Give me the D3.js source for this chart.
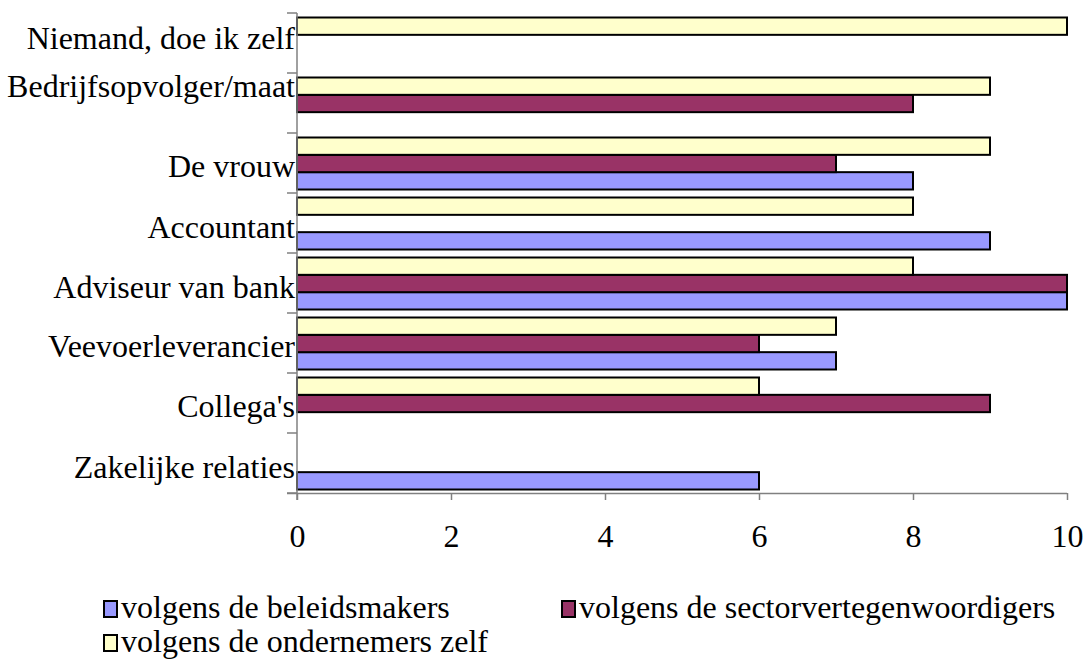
<!DOCTYPE html>
<html>
<head>
<meta charset="utf-8">
<script src="https://cdn.jsdelivr.net/npm/d3@7"></script>
<style>
  body { margin: 0; background: #fff; }
</style>
</head>
<body>
<svg id="chart" width="1090" height="662"></svg>
<script>
// categories top to bottom
const categories = ['Niemand, doe ik zelf', 'Bedrijfsopvolger/maat', 'De vrouw', 'Accountant',
  'Adviseur van bank', 'Veevoerleverancier', "Collega's", 'Zakelijke relaties']

const seriesNames = ['volgens de beleidsmakers', 'volgens de sectorvertegenwoordigers', 'volgens de ondernemers zelf']

// null = no bar
const beleidsmakers = [null, null, 8, 9, 10, 7, null, 6]
const sectorvertegenwoordigers = [null, 8, 7, null, 10, 6, 9, null]
const ondernemers = [10, 9, 9, 8, 8, 7, 6, null]

const xTicks = [0, 2, 4, 6, 8, 10]

const colors = ['#9999ff', '#993366', '#ffffcc']
const seriesValues = [beleidsmakers, sectorvertegenwoordigers, ondernemers]

// pick the first serif face that is really installed
function pickSerif() {
  const ctx = document.createElement('canvas').getContext('2d')
  const probe = 'Niemand, doe ik zelf WMwmil'
  const widthOf = f => { ctx.font = '40px ' + f; return ctx.measureText(probe).width }
  const base1 = widthOf('monospace')
  const base2 = widthOf('cursive')
  const names = ['Liberation Serif', 'Tinos', 'Times New Roman', 'Times', 'Nimbus Roman', 'FreeSerif', 'DejaVu Serif', 'Noto Serif']
  for (const n of names) {
    if (widthOf(`"${n}", monospace`) !== base1 || widthOf(`"${n}", cursive`) !== base2) return `"${n}", serif`
  }
  return 'serif'
}
const fontFamily = pickSerif()

const svg = d3.select('#chart').attr('font-family', fontFamily)
const fontSize = 32

const x = d3.scaleLinear().domain([0, 10]).range([297, 1067])
const y = d3.scaleBand().domain(categories).range([13, 493])
// inside a band: ondernemers on top, then sector, then beleidsmakers
const inner = d3.scaleBand().domain([2, 1, 0]).range([4.5, 56.5])

const rows = []
seriesValues.forEach((vals, s) => {
  vals.forEach((v, i) => {
    if (v != null) rows.push({ cat: categories[i], s, v })
  })
})

// bars
svg.append('g').selectAll('rect')
  .data(rows)
  .join('rect')
  .attr('x', x(0))
  .attr('y', d => y(d.cat) + inner(d.s))
  .attr('width', d => x(d.v) - x(0))
  .attr('height', inner.bandwidth())
  .attr('fill', d => colors[d.s])
  .attr('stroke', '#000')
  .attr('stroke-width', 2)

// axes (gray lines)
const xAxis = svg.append('g')
  .attr('transform', `translate(0,${493})`)
  .call(d3.axisBottom(x).tickValues(xTicks).tickSize(7).tickPadding(0).tickFormat(d3.format('d')))
xAxis.attr('font-family', null).attr('font-size', null)
xAxis.selectAll('path, line').attr('stroke', '#808080').attr('stroke-width', 1.5)
xAxis.select('.domain').attr('d', `M${x(0) - 10},0.5H${x(10)}`)
xAxis.selectAll('text').attr('font-size', fontSize).attr('dy', null).attr('y', 54).attr('fill', '#000')

const yAxis = svg.append('g').attr('transform', `translate(${x(0)},0)`)
yAxis.append('line')
  .attr('x1', 0).attr('x2', 0).attr('y1', 13).attr('y2', 500)
  .attr('stroke', '#808080').attr('stroke-width', 1.5)
const bounds = categories.map(c => y(c)).concat([y.range()[1]])
yAxis.selectAll('line.tick')
  .data(bounds)
  .join('line')
  .attr('class', 'tick')
  .attr('x1', -10).attr('x2', 0)
  .attr('y1', d => d).attr('y2', d => d)
  .attr('stroke', '#808080').attr('stroke-width', 1.5)

// label baseline shift relative to band centre (Excel nudged top two labels)
const labelShift = [6, -6, 14, 15, 15, 14, 14, 15]
svg.append('g').selectAll('text')
  .data(categories)
  .join('text')
  .attr('x', 295)
  .attr('y', (d, i) => y(d) + y.bandwidth() / 2 + labelShift[i])
  .attr('text-anchor', 'end')
  .attr('font-size', fontSize)
  .text(d => d)

// legend
const legendPos = [[104, 618], [562, 618], [104, 652]]
const legend = svg.append('g').selectAll('g')
  .data(seriesNames)
  .join('g')
  .attr('transform', (d, i) => `translate(${legendPos[i][0]},${legendPos[i][1]})`)
legend.append('rect')
  .attr('x', 0).attr('y', -17).attr('width', 13).attr('height', 16)
  .attr('fill', (d, i) => colors[i]).attr('stroke', '#000').attr('stroke-width', 2)
legend.append('text')
  .attr('x', 17).attr('y', 0)
  .attr('font-size', fontSize)
  .text(d => d)
</script>
</body>
</html>
